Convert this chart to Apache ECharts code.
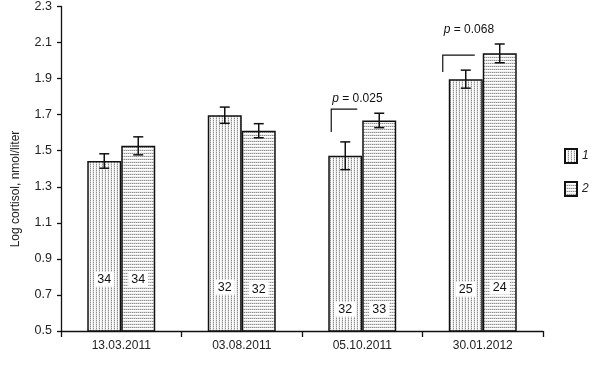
<!DOCTYPE html>
<html><head><meta charset="utf-8">
<script src="https://cdn.jsdelivr.net/npm/echarts@6/dist/echarts.min.js"></script>
<style>html,body{margin:0;padding:0;background:#fff}#c{width:598px;height:366px}</style>
</head><body><div id="c"></div>
<script>
const categories = ['13.03.2011', '03.08.2011', '05.10.2011', '30.01.2012'];
const group1 = [1.443, 1.697, 1.472, 1.897];
const group2 = [1.527, 1.611, 1.668, 2.040];
const err1 = [0.040, 0.045, 0.077, 0.050];
const err2 = [0.050, 0.039, 0.040, 0.052];
const n1 = [34, 32, 32, 25];
const n2 = [34, 32, 33, 24];
const pValues = [null, null, '0.025', '0.068'];
const yTicks = [0.5, 0.7, 0.9, 1.1, 1.3, 1.5, 1.7, 1.9, 2.1, 2.3];
const yAxisTitle = 'Log cortisol, nmol/liter';

// layout constants (not data): where annotations sit, in axis units / pixels
const nLabelY1 = [0.787, 0.743, 0.621, 0.732];
const nLabelY2 = [0.787, 0.732, 0.621, 0.743];
const bracketTopY = [null, null, 1.731, 2.030];
const bracketBotY = [null, null, 1.604, 1.936];
const bracketX = [null, null, [-31, -5], [-40, -8]];
const pTextY = [null, null, 1.787, 2.173];
const FONT = 'Liberation Sans, Arial, sans-serif';

function makePattern(kind) {
  const c = document.createElement('canvas');
  const g = c.getContext('2d');
  if (kind === 1) {
    c.width = 3; c.height = 2;
    g.fillStyle = '#ffffff'; g.fillRect(0, 0, 3, 2);
    g.fillStyle = '#8e8e8e'; g.fillRect(0, 0, 1, 1);
    g.fillStyle = '#cccccc'; g.fillRect(0, 1, 1, 1);
    g.fillStyle = '#f0f0f0'; g.fillRect(2, 0, 1, 2);
  } else {
    c.width = 2; c.height = 3;
    g.fillStyle = '#ffffff'; g.fillRect(0, 0, 2, 3);
    g.fillStyle = '#8e8e8e'; g.fillRect(0, 0, 1, 1);
    g.fillStyle = '#cccccc'; g.fillRect(1, 0, 1, 1);
    g.fillStyle = '#f0f0f0'; g.fillRect(0, 2, 2, 1);
  }
  return c;
}
const pat1 = { image: makePattern(1), repeat: 'repeat' };
const pat2 = { image: makePattern(2), repeat: 'repeat' };

const GAP = 0.436;
function barHalf(api) { return api.size([1, 0])[0] * (1 - GAP) / 2; }

const errData = [];
categories.forEach((c, i) => {
  errData.push([i, group1[i], err1[i], -1]);
  errData.push([i, group2[i], err2[i], 1]);
});
const nData = [];
categories.forEach((c, i) => {
  nData.push([i, nLabelY1[i], n1[i], -1]);
  nData.push([i, nLabelY2[i], n2[i], 1]);
});
const pData = [];
categories.forEach((c, i) => {
  if (pValues[i] !== null) pData.push([i, bracketTopY[i], bracketBotY[i], pTextY[i], pValues[i]]);
});

const chart = echarts.init(document.getElementById('c'), null, { renderer: 'canvas' });
chart.setOption({
  animation: false,
  backgroundColor: '#fff',
  grid: { left: 61, right: 55, top: 5, bottom: 35 },
  graphic: [{
    type: 'text', x: 15.5, y: 189, rotation: Math.PI / 2,
    style: { text: yAxisTitle, align: 'center', verticalAlign: 'middle',
      fontFamily: FONT, fontSize: 12, fill: '#222' }
  }],
  legend: {
    orient: 'vertical', left: 559, top: 143,
    itemWidth: 12, itemHeight: 14, itemGap: 17,
    icon: 'rect',
    textStyle: { fontFamily: FONT, fontSize: 12, fontStyle: 'italic', color: '#222' },
    data: ['1', '2']
  },
  xAxis: {
    type: 'category', data: categories,
    axisLine: { lineStyle: { color: '#111', width: 1.3 } },
    axisTick: { show: true, length: 6, lineStyle: { color: '#111', width: 1.3 } },
    axisLabel: { fontFamily: FONT, fontSize: 12, color: '#222', margin: 9 }
  },
  yAxis: {
    type: 'value', min: 0.5, max: 2.3, interval: 0.2,
    axisLine: { show: true, lineStyle: { color: '#111', width: 1.3 } },
    axisTick: { show: true, length: 4, lineStyle: { color: '#111', width: 1.3 } },
    splitLine: { show: false },
    axisLabel: { fontFamily: FONT, fontSize: 12.5, color: '#222', margin: 9,
      formatter: v => { const t = yTicks.find(x => Math.abs(x - v) < 1e-6); return t !== undefined ? t.toFixed(1) : ''; } }
  },
  series: [
    { name: '1', type: 'bar', data: group1, barGap: '0%', barCategoryGap: (GAP * 100) + '%',
      itemStyle: { color: pat1, borderColor: '#111', borderWidth: 1.5 } },
    { name: '2', type: 'bar', data: group2,
      itemStyle: { color: pat2, borderColor: '#111', borderWidth: 1.5 } },
    { type: 'custom', data: errData, z: 5, silent: true,
      renderItem: (params, api) => {
        const i = api.value(0), v = api.value(1), e = api.value(2), side = api.value(3);
        const hb = barHalf(api);
        const top = api.coord([i, v + e]), bot = api.coord([i, v - e]);
        const x = top[0] + side * hb / 2;
        const cap = 5;
        const st = { stroke: '#111', lineWidth: 1.5 };
        return { type: 'group', children: [
          { type: 'line', shape: { x1: x, y1: top[1], x2: x, y2: bot[1] }, style: st },
          { type: 'line', shape: { x1: x - cap, y1: top[1], x2: x + cap, y2: top[1] }, style: st },
          { type: 'line', shape: { x1: x - cap, y1: bot[1], x2: x + cap, y2: bot[1] }, style: st }
        ] };
      } },
    { type: 'custom', data: nData, z: 6, silent: true,
      renderItem: (params, api) => {
        const i = api.value(0), y = api.value(1), n = api.value(2), side = api.value(3);
        const hb = barHalf(api);
        const p = api.coord([i, y]);
        const x = p[0] + side * hb / 2;
        return { type: 'group', children: [
          { type: 'rect', shape: { x: x - 10, y: p[1] - 7.5, width: 20, height: 15 }, style: { fill: '#fff' } },
          { type: 'text', style: { x: x, y: p[1], text: String(n), align: 'center', verticalAlign: 'middle',
            fontFamily: FONT, fontSize: 12.5, fill: '#111' } }
        ] };
      } },
    { type: 'custom', data: pData, z: 6, silent: true,
      renderItem: (params, api) => {
        const i = api.value(0);
        const t = api.coord([i, api.value(1)]), b = api.coord([i, api.value(2)]), tx = api.coord([i, api.value(3)]);
        const bx = bracketX[i];
        const x0 = t[0] + bx[0], x1 = t[0] + bx[1];
        const st = { stroke: '#111', lineWidth: 1.2, fill: null };
        return { type: 'group', children: [
          { type: 'polyline', shape: { points: [[x0, b[1]], [x0, t[1]], [x1, t[1]]] }, style: st },
          { type: 'text', style: { x: x0 + 1, y: tx[1], text: '{i|p} = ' + api.value(4),
            verticalAlign: 'middle', fontFamily: FONT, fontSize: 12, fill: '#111',
            rich: { i: { fontStyle: 'italic', fontFamily: FONT, fontSize: 12, fill: '#111' } } } }
        ] };
      } }
  ]
});
</script></body></html>
